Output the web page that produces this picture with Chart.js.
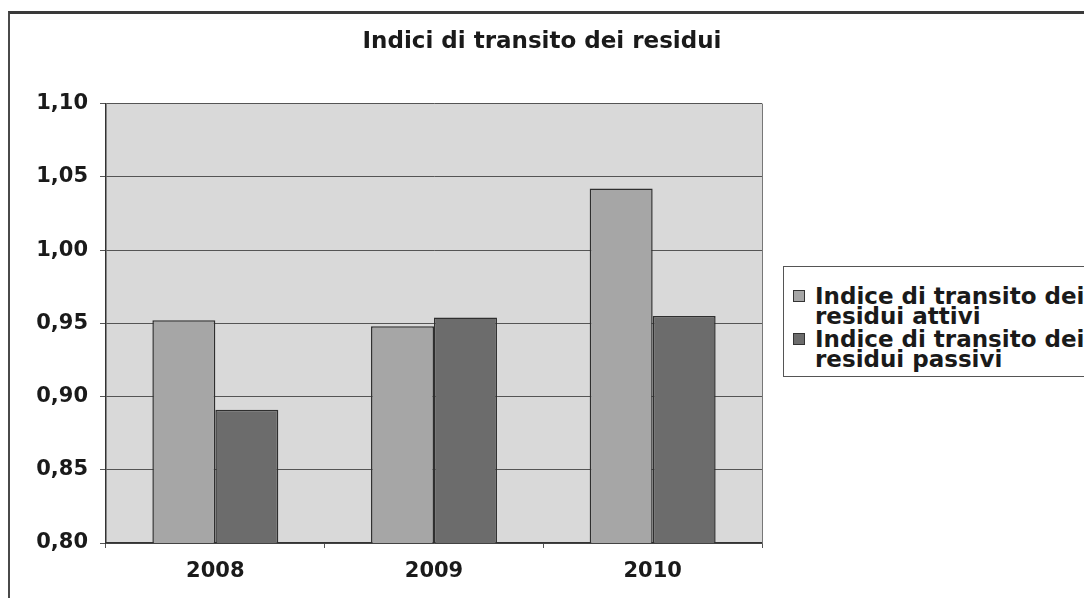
<!DOCTYPE html>
<html><head><meta charset="utf-8">
<script src="https://cdn.jsdelivr.net/npm/chart.js@4/dist/chart.umd.min.js"></script>
<style>
html,body{margin:0;padding:0;width:1084px;height:598px;overflow:hidden;background:#fff;}
#frame{position:absolute;left:8px;top:11px;width:1200px;height:700px;border-left:2px solid #4a4a4a;border-top:3px solid #3a3a3a;}
#wrap{position:absolute;left:0;top:0;width:1084px;height:598px;}
#legend{position:absolute;left:783px;top:266px;width:500px;height:111px;border:1.5px solid #555;font:bold 23px "DejaVu Sans";color:#1a1a1a;line-height:20px;box-sizing:border-box;padding-top:19px;background:#fff;}
.item{display:flex;align-items:flex-start;}
.item + .item{margin-top:3px;}
.sw{width:10px;height:10px;border:1px solid #333;margin-left:9px;margin-right:10px;margin-top:4px;flex:none}
.txt{width:285px}
</style></head>
<body>
<div id="frame"></div>
<div id="wrap"><canvas id="c" width="1084" height="598"></canvas></div>
<div id="legend"></div>
<script>
const categories = ['2008', '2009', '2010'];
const seriesNames = ['Indice di transito dei residui attivi', 'Indice di transito dei residui passivi'];
const attivi = [0.952, 0.948, 1.042];
const passivi = [0.891, 0.954, 0.955];
const yTicks = [0.80, 0.85, 0.90, 0.95, 1.00, 1.05, 1.10];
const titleText = 'Indici di transito dei residui';
const seriesColors = ['#a6a6a6', '#6c6c6c'];

const bgPlugin = {
  id: 'bg',
  beforeDraw(c) {
    const {ctx, chartArea: a} = c;
    ctx.save();
    ctx.fillStyle = '#d9d9d9';
    ctx.fillRect(a.left, a.top, a.right - a.left, a.bottom - a.top);
    ctx.restore();
  },
  beforeDatasetsDraw(c) {
    const {ctx, chartArea: a} = c;
    ctx.save();
    ctx.strokeStyle = '#777';
    ctx.lineWidth = 1;
    ctx.beginPath();
    ctx.moveTo(a.right + 0.5, a.top);
    ctx.lineTo(a.right + 0.5, a.bottom);
    ctx.stroke();
    ctx.restore();
  }
};

const tickFont = {family: 'DejaVu Sans', size: 21, weight: 'bold'};

const chart = new Chart(document.getElementById('c'), {
  type: 'bar',
  data: {
    labels: categories,
    datasets: [
      {label: seriesNames[0], data: attivi, backgroundColor: seriesColors[0], borderColor: '#2f2f2f', borderWidth: 1.5, yAxisID: 'y'},
      {label: seriesNames[1], data: passivi, backgroundColor: seriesColors[1], borderColor: '#2f2f2f', borderWidth: 1.5, yAxisID: 'y'}
    ]
  },
  options: {
    responsive: false,
    devicePixelRatio: 1,
    animation: false,
    categoryPercentage: 0.576,
    barPercentage: 1.0,
    layout: {padding: {left: 0, right: 0, top: 0, bottom: 0}},
    plugins: {
      legend: {display: false},
      tooltip: {enabled: false},
      title: {
        display: true,
        text: titleText,
        color: '#1a1a1a',
        font: {family: 'DejaVu Sans', size: 23, weight: 'bold'},
        padding: {top: 28, bottom: 48}
      }
    },
    scales: {
      x: {
        grid: {offset: true, drawOnChartArea: false, drawTicks: true, tickLength: 5, color: '#555'},
        border: {color: '#333', width: 1.5},
        ticks: {font: tickFont, color: '#1a1a1a', padding: 11},
        afterFit(s) { s.height = 55; }
      },
      y: {
        min: 0.8, max: 1.1,
        afterBuildTicks(s) { s.ticks = yTicks.map(v => ({value: v})); },
        grid: {color: '#555', lineWidth: 1, tickLength: 6},
        border: {color: '#333', width: 1.5},
        ticks: {font: tickFont, color: '#1a1a1a', padding: 12, callback: v => Number(v).toFixed(2).replace('.', ',')},
        afterFit(s) { s.width = 106; }
      },
      y2: {
        position: 'right',
        grid: {display: false},
        border: {display: false},
        ticks: {display: false},
        afterFit(s) { s.width = 322; }
      }
    }
  },
  plugins: [bgPlugin]
});

const leg = document.getElementById('legend');
chart.data.datasets.forEach(ds => {
  const item = document.createElement('div');
  item.className = 'item';
  const sw = document.createElement('div');
  sw.className = 'sw';
  sw.style.background = ds.backgroundColor;
  const t = document.createElement('div');
  t.className = 'txt';
  t.textContent = ds.label;
  item.appendChild(sw);
  item.appendChild(t);
  leg.appendChild(item);
});
</script>
</body></html>
